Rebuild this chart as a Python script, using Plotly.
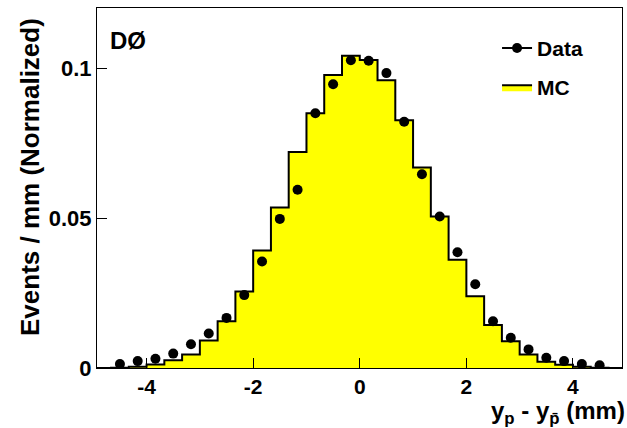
import numpy as np
import plotly.graph_objects as go

# 30 bins of 1/3 mm between -5 and 5 mm
bin_edges = np.linspace(-5, 5, 31)
bin_centers = 0.5 * (bin_edges[:-1] + bin_edges[1:])

# MC histogram, one value per bin
mc_values = [0.0, 0.0001, 0.0004, 0.0012, 0.0026, 0.0045, 0.0092, 0.0156,
             0.0255, 0.0392, 0.0535, 0.0720, 0.0849, 0.0977, 0.1041, 0.1027,
             0.0959, 0.0826, 0.0668, 0.0505, 0.0361, 0.0239, 0.0143, 0.0089,
             0.0045, 0.0021, 0.0011, 0.0004, 0.0001, 0.0]

# data points, bins 1..28
data_values = [0.0013, 0.0023, 0.0031, 0.0048, 0.0079, 0.0115, 0.0167,
               0.0243, 0.0355, 0.0497, 0.0594, 0.0849, 0.0946, 0.1026,
               0.1024, 0.0983, 0.0821, 0.0646, 0.0505, 0.0386, 0.0279,
               0.0156, 0.0101, 0.0062, 0.0034, 0.0023, 0.0013, 0.0009]
data_x = bin_centers[1:29]

x_ticks = [-4, -2, 0, 2, 4]
x_ticklabels = ['-4', '-2', '0', '2', '4']
y_ticks = [0, 0.05, 0.1]
y_ticklabels = ['0', '0.05', '0.1']

font_family = 'Liberation Sans, Arial, sans-serif'

mc_trace = go.Scatter(
    x=list(bin_edges),
    y=mc_values + [mc_values[-1]],
    mode='lines',
    line=dict(shape='hv', color='black', width=2),
    fill='tozeroy',
    fillcolor='#ffff00',
    name='MC',
    legendgroup='mc',
    legendrank=2
)

data_trace = go.Scatter(
    x=data_x,
    y=data_values,
    mode='markers',
    marker=dict(color='black', size=10, symbol='circle'),
    showlegend=False
)

data_legend = go.Scatter(
    x=[None],
    y=[None],
    mode='lines+markers',
    line=dict(color='black', width=2),
    marker=dict(color='black', size=10),
    name='Data',
    legendgroup='data',
    legendrank=1
)

layout = go.Layout(
    width=627,
    height=428,
    paper_bgcolor='white',
    plot_bgcolor='white',
    font=dict(family=font_family, color='black', size=20, weight='bold'),
    margin=dict(l=97, r=5, t=8, b=60, autoexpand=False),
    xaxis=dict(
        range=[-4.93, 4.92],
        tickvals=x_ticks,
        ticktext=x_ticklabels,
        ticks='inside',
        ticklen=10,
        tickcolor='black',
        tickfont=dict(size=21, weight='bold'),
        showline=True,
        linecolor='black',
        linewidth=1,
        mirror=True,
        showgrid=False,
        zeroline=False,
        automargin=False
    ),
    yaxis=dict(
        range=[0, 0.12],
        tickvals=y_ticks,
        ticktext=y_ticklabels,
        ticks='inside',
        ticklen=10,
        tickcolor='black',
        tickfont=dict(size=22, weight='bold'),
        showline=True,
        linecolor='black',
        linewidth=1,
        mirror=True,
        showgrid=False,
        zeroline=False,
        automargin=False
    ),
    legend=dict(
        x=0.762,
        y=0.945,
        xanchor='left',
        yanchor='top',
        bgcolor='rgba(0,0,0,0)',
        font=dict(size=21, weight='bold'),
        tracegroupgap=9,
        itemwidth=30
    ),
    annotations=[
        dict(text='Events / mm (Normalized)', x=-0.128, y=0.53, xref='paper', yref='paper',
             xanchor='center', yanchor='middle', textangle=-90, showarrow=False,
             font=dict(size=26, weight='bold')),
        dict(text='DØ', x=0.02, y=0.91, xref='paper', yref='paper',
             xanchor='left', yanchor='middle', showarrow=False,
             font=dict(size=24, weight='bold')),
        dict(text='y<sub>p</sub> - y<sub>p\u0304</sub> (mm)', x=1.01, y=-0.074,
             xref='paper', yref='paper', xanchor='right', yanchor='top',
             showarrow=False, font=dict(size=24, weight='bold'))
    ]
)

fig = go.Figure(data=[mc_trace, data_trace, data_legend], layout=layout)
fig.write_html('out.html', config={'displayModeBar': False},
               post_script="document.body.style.margin='0';")
